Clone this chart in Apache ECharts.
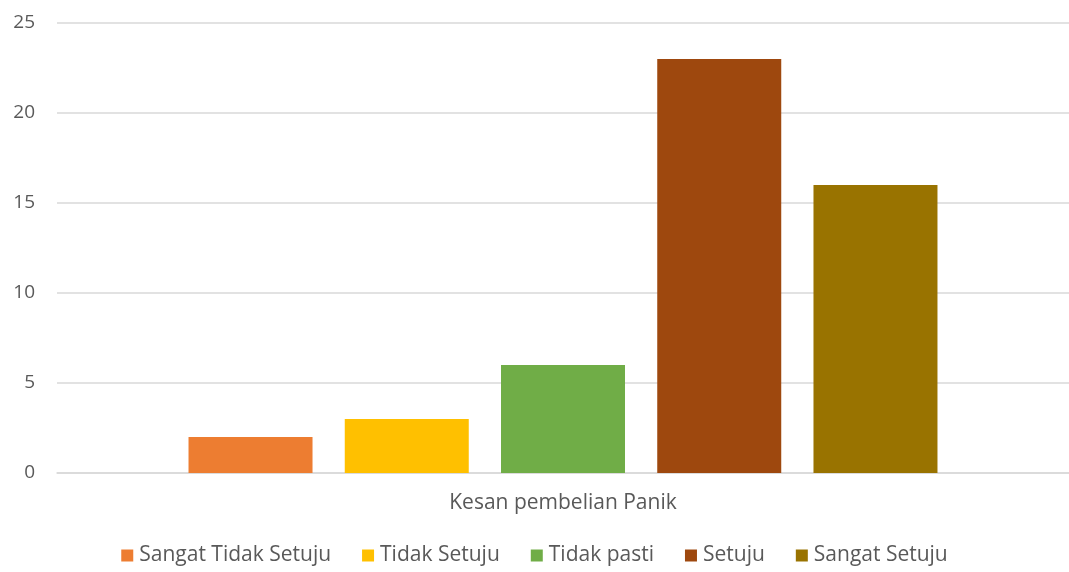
<!DOCTYPE html>
<html>
<head>
<meta charset="utf-8">
<script src="https://cdn.jsdelivr.net/npm/echarts@6/dist/echarts.min.js"></script>
<style>
  html, body { margin: 0; padding: 0; background: #fff; overflow: hidden; }
  #chart { width: 1069px; height: 572px; }
</style>
</head>
<body>
<div id="chart"></div>
<script>
// Survey responses on panic buying impressions
const categories = ['Kesan pembelian Panik'];
const seriesNames = ['Sangat Tidak Setuju', 'Tidak Setuju', 'Tidak pasti', 'Setuju', 'Sangat Setuju'];
const seriesValues = [2, 3, 6, 23, 16];
const seriesColors = ['#ED7D31', '#FFC000', '#70AD47', '#9E480E', '#997300'];
const yTicks = [0, 5, 10, 15, 20, 25];

const FONT = "'Open Sans', sans-serif";
const chart = echarts.init(document.getElementById('chart'));

chart.setOption({
  animation: false,
  backgroundColor: '#ffffff',
  textStyle: { fontFamily: FONT },
  // plot area runs slightly past the right edge of the canvas
  grid: { left: 57, width: 1019, top: 23, bottom: 99, containLabel: false },
  legend: {
    data: seriesNames,
    top: 540,
    left: 'center',
    itemWidth: 12,
    itemHeight: 12,
    itemGap: 31,
    icon: 'rect',
    textStyle: { color: '#595959', fontSize: 21, fontFamily: FONT, padding: [0, 0, 0, 1] }
  },
  xAxis: {
    type: 'category',
    data: categories,
    axisLine: { lineStyle: { color: '#d9d9d9', width: 1.5 } },
    axisTick: { show: false },
    axisLabel: { color: '#595959', fontSize: 21, margin: 20, fontFamily: FONT }
  },
  yAxis: {
    type: 'value',
    min: yTicks[0],
    max: yTicks[yTicks.length - 1],
    interval: 5,
    axisLine: { show: false },
    axisTick: { show: false },
    splitLine: { lineStyle: { color: '#d9d9d9', width: 1.5 } },
    axisLabel: { color: '#595959', fontSize: 19, margin: 22, fontFamily: FONT }
  },
  series: seriesNames.map((name, i) => ({
    name: name,
    type: 'bar',
    data: [seriesValues[i]],
    barWidth: 124,
    barGap: '26%',
    itemStyle: { color: seriesColors[i] }
  }))
});
</script>
</body>
</html>
